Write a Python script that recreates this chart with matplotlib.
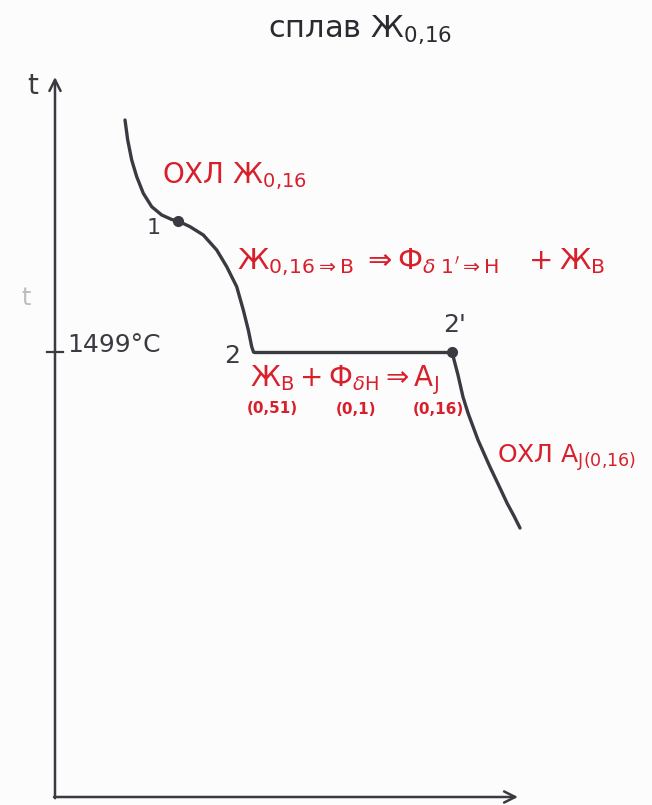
import matplotlib
matplotlib.use("Agg")
import matplotlib.pyplot as plt

plt.rcParams['font.family'] = ['DejaVu Sans']
plt.rcParams['mathtext.fontset'] = 'dejavusans'

# Cooling curve of the 0.16 %C alloy: time (arb. units) vs temperature (°C)
liquid_time = [7.0, 7.27, 7.67, 8.17, 8.83, 9.67, 10.67, 11.67, 12.3]
liquid_temp = [1557.0, 1552.0, 1547.0, 1542.83, 1538.67, 1535.33, 1533.25, 1532.13, 1531.75]

primary_time = [12.3, 13.5, 14.83, 16.17, 17.17, 18.17, 18.83, 19.33, 19.67, 19.85]
primary_temp = [1531.75, 1530.33, 1528.25, 1524.5, 1520.33, 1515.33, 1509.5, 1504.5, 1500.33, 1499.0]

peritectic_time = [19.85, 39.7]
peritectic_temp = [1499.0, 1499.0]

austenite_time = [39.7, 40.3, 40.8, 41.3, 42.3, 43.5, 44.5, 45.2, 45.9, 46.5]
austenite_temp = [1499.0, 1493.25, 1487.75, 1483.75, 1477.0, 1470.25, 1465.0, 1461.25, 1458.0, 1455.0]

point_1 = (12.3, 1531.75)
point_2p = (39.7, 1499.0)
t_peritectic = 1499

axis_t_max = 46.3
axis_T_min = 1387.75
axis_T_max = 1567.75

W, H = 652, 805
fig = plt.figure(figsize=(W / 100, H / 100), dpi=100)
fig.patch.set_facecolor('#fcfcfc')
ax = fig.add_axes([0, 0, 1, 1])
ax.set_xlim(-5.5, 59.7)
ax.set_ylim(1385.75, 1587.0)
ax.axis('off')

pencil = '#3a3a42'
red = '#d8202c'

# axes with open arrowheads
ax.annotate('', xy=(0, axis_T_max), xytext=(0, axis_T_min - 0.3),
            arrowprops=dict(arrowstyle='->', lw=1.8, color=pencil, mutation_scale=20,
                            shrinkA=0, shrinkB=0))
ax.annotate('', xy=(axis_t_max, axis_T_min), xytext=(-0.1, axis_T_min),
            arrowprops=dict(arrowstyle='->', lw=1.8, color=pencil, mutation_scale=20,
                            shrinkA=0, shrinkB=0))
# tick for 1499 °C
ax.plot([-0.8, 0.8], [t_peritectic, t_peritectic], color=pencil, lw=1.6)

# cooling curve
for xs, ys in [(liquid_time, liquid_temp), (primary_time, primary_temp),
               (peritectic_time, peritectic_temp), (austenite_time, austenite_temp)]:
    ax.plot(xs, ys, color=pencil, lw=2.4, solid_capstyle='round', solid_joinstyle='round')
ax.plot(*point_1, 'o', color=pencil, ms=7)
ax.plot(*point_2p, 'o', color=pencil, ms=7)


def ftext(x, y, s, **kw):
    fig.text(x / W, 1 - y / H, s, **kw)


# title
ftext(268, 30, r"сплав $\mathrm{Ж}_{0{,}16}$", fontsize=22, color='#2a2a30',
      va='center', ha='left')

# axis labels
ftext(33, 86, "t", fontsize=20, color=pencil, va='center', ha='center')
ftext(26, 298, "t", fontsize=17, color='#bdbdbd', va='center', ha='center')
ftext(67, 345, f"{t_peritectic}°C", fontsize=18, color=pencil, va='center', ha='left')

# point labels
ftext(154, 228, "1", fontsize=16, color=pencil, va='center', ha='center')
ftext(232, 356, "2", fontsize=18, color=pencil, va='center', ha='center')
ftext(455, 325, "2'", fontsize=18, color=pencil, va='center', ha='center')

# red annotations
ftext(162, 176, r"ОХЛ $\mathrm{Ж}_{0{,}16}$", fontsize=20, color=red, va='center', ha='left')
ftext(237, 262,
      r"$\mathrm{Ж}_{0{,}16\Rightarrow\mathrm{B}}\;\Rightarrow\mathrm{Ф}_{\delta\;1'\Rightarrow\mathrm{H}}\;\;\;+\mathrm{Ж}_{\mathrm{B}}$",
      fontsize=21, color=red, va='center', ha='left')
ftext(250, 380, r"$\mathrm{Ж}_{\mathrm{B}}+\mathrm{Ф}_{\delta\mathrm{H}}\Rightarrow\mathrm{A}_{\mathrm{J}}$",
      fontsize=20, color=red, va='center', ha='left')
ftext(272, 408, "(0,51)", fontsize=11, color=red, va='center', ha='center', fontweight='bold')
ftext(356, 410, "(0,1)", fontsize=11, color=red, va='center', ha='center', fontweight='bold')
ftext(438, 410, "(0,16)", fontsize=11, color=red, va='center', ha='center', fontweight='bold')
ftext(497, 458, r"ОХЛ $\mathrm{A}_{\mathrm{J}(0{,}16)}$", fontsize=18, color=red,
      va='center', ha='left')

fig.savefig('out.png', dpi=100, facecolor=fig.get_facecolor())
